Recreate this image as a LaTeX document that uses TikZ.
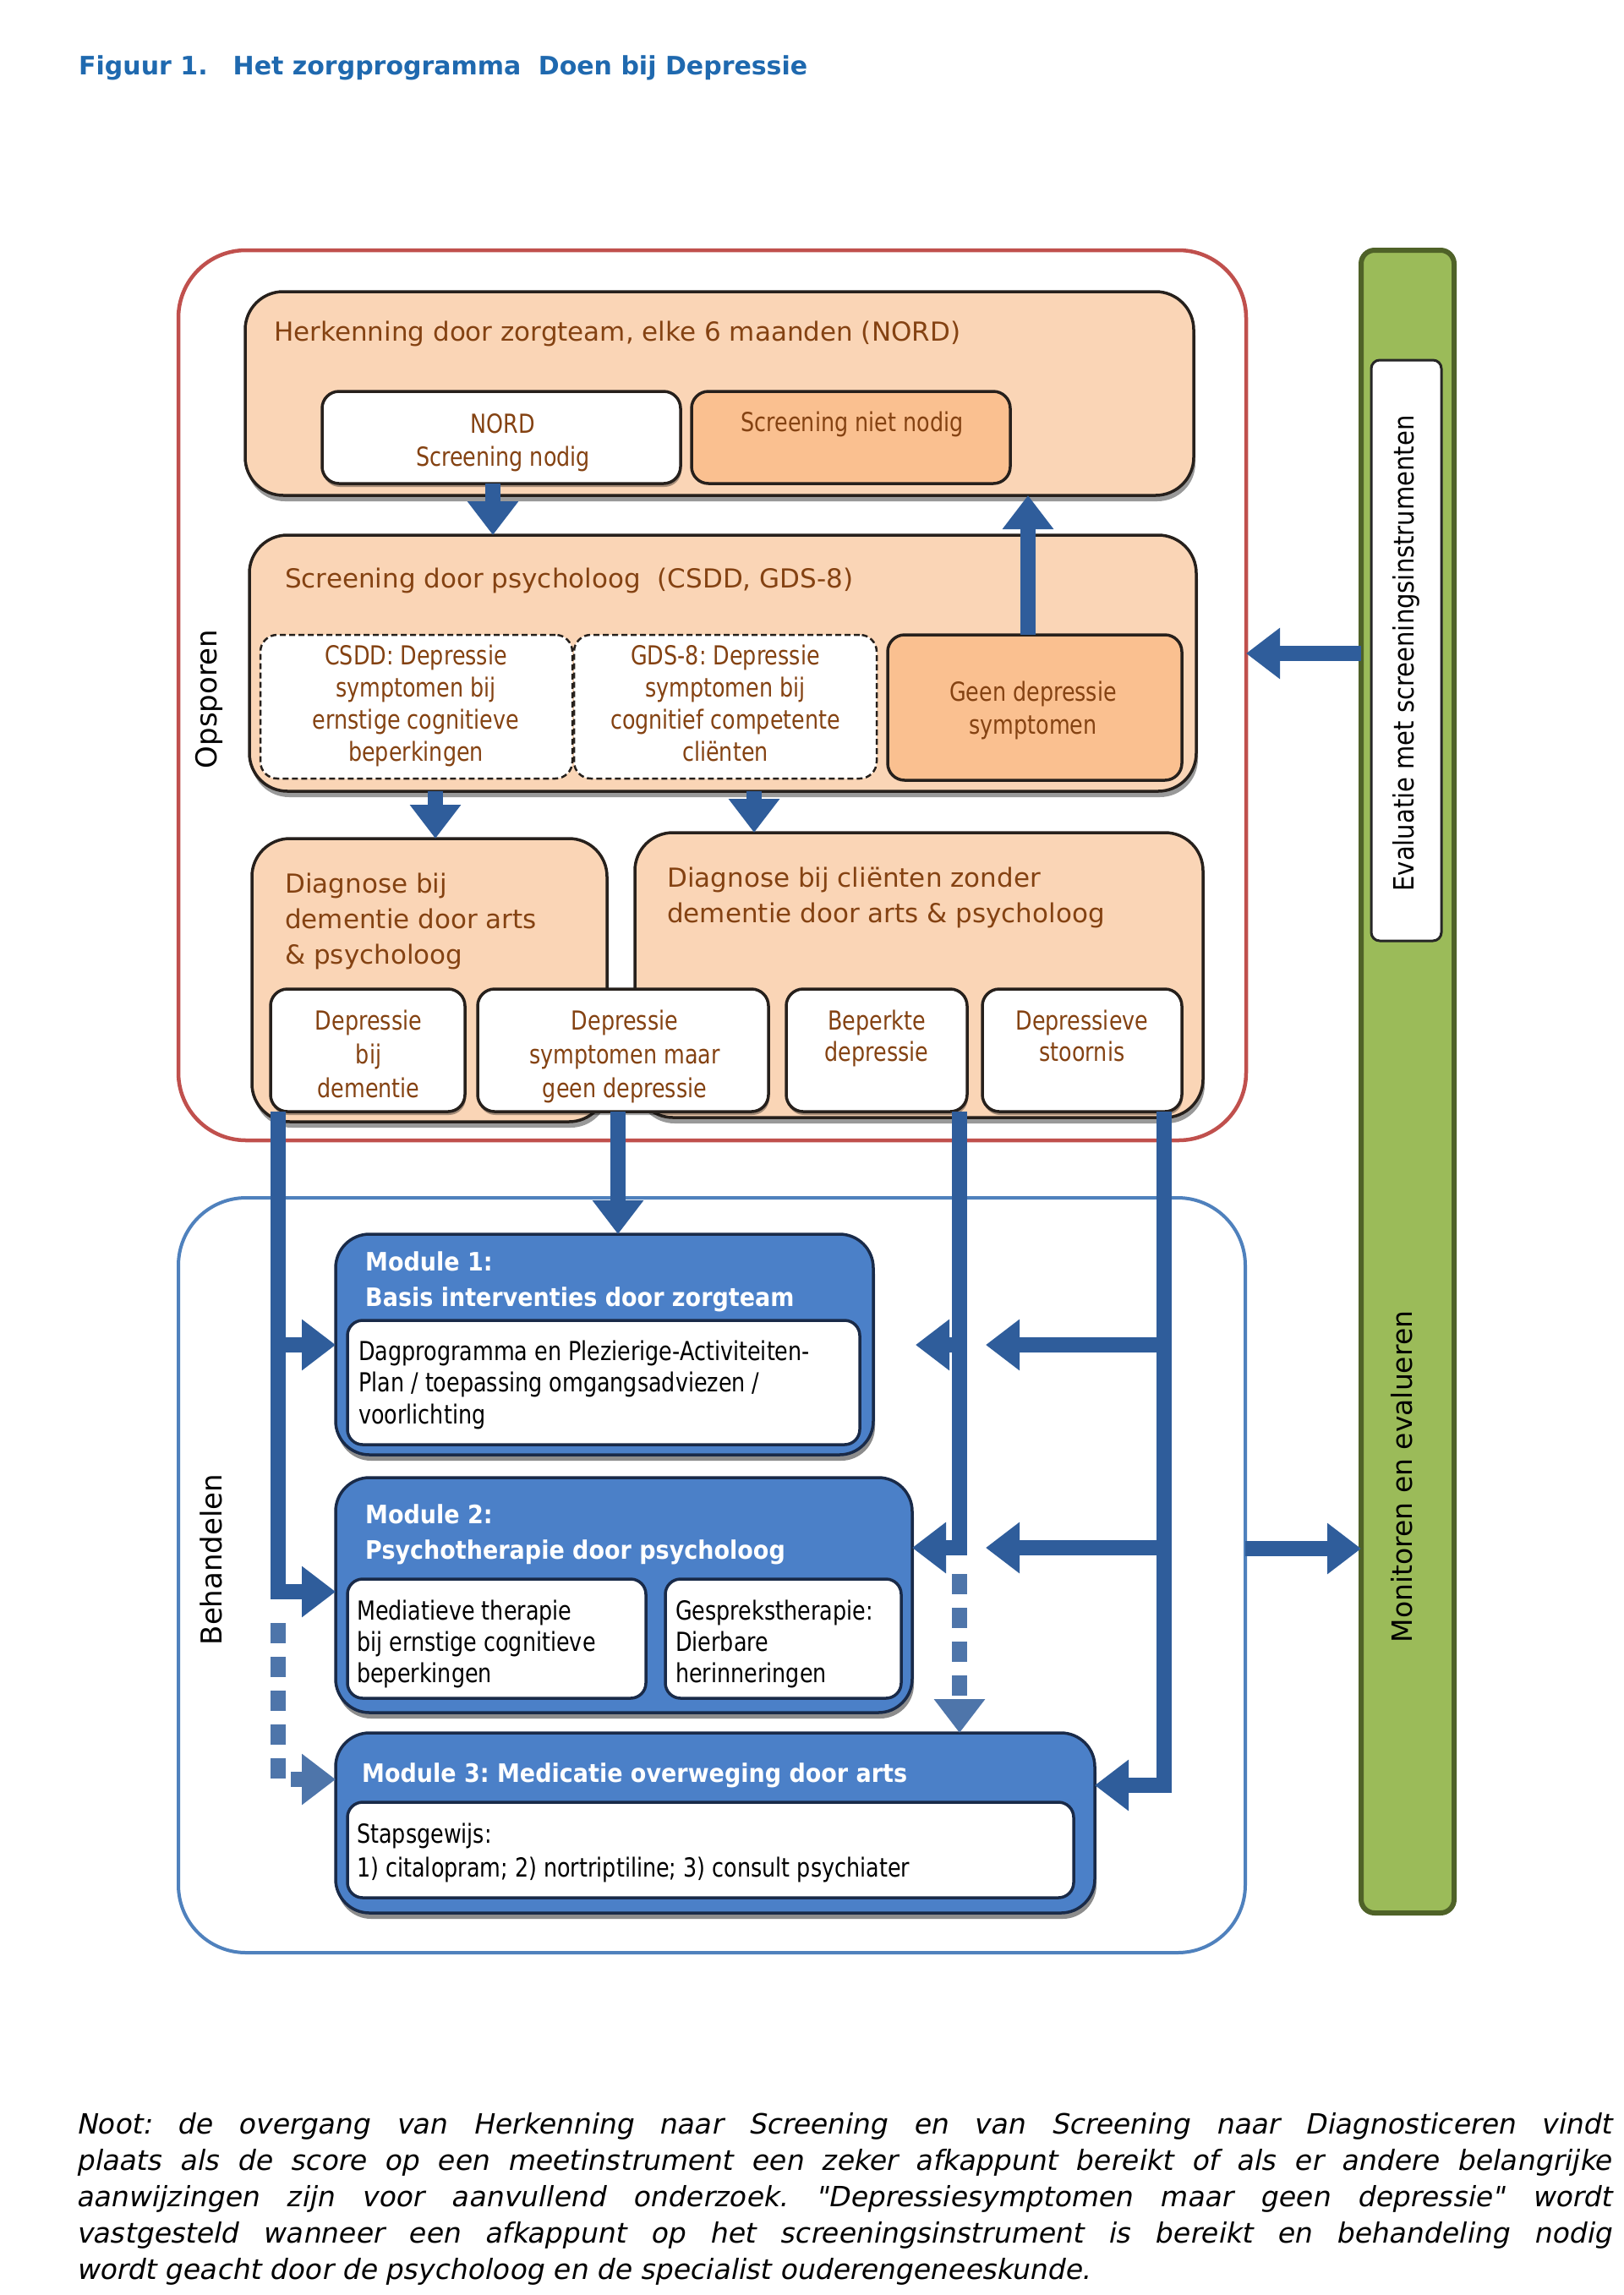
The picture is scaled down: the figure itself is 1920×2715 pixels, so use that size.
\documentclass[tikz,border=0pt]{standalone}
\usepackage{fontspec}
\setmainfont{DejaVu Sans}
\newfontfamily\cnd[FakeStretch=0.82]{DejaVu Sans}
\newfontfamily\cndb[FakeStretch=0.9]{DejaVu Sans}
\newfontfamily\evalf[FakeStretch=0.88]{DejaVu Sans}
\newfontfamily\notef[FakeSlant=0.2]{DejaVu Sans}
\usetikzlibrary{arrows.meta,shadows,calc}
\definecolor{titleblue}{RGB}{31,105,175}
\definecolor{framered}{RGB}{192,80,77}
\definecolor{frameblue}{RGB}{79,129,189}
\definecolor{peach}{RGB}{250,213,182}
\definecolor{peachdark}{RGB}{250,192,144}
\definecolor{txtbrown}{RGB}{132,66,18}
\definecolor{modblue}{RGB}{75,128,200}
\definecolor{modborder}{RGB}{25,42,72}
\definecolor{arrowblue}{RGB}{47,93,155}
\definecolor{bargreen}{RGB}{155,187,89}
\definecolor{barborder}{RGB}{79,98,40}
\definecolor{boxline}{RGB}{38,32,28}
\newcommand\bx[6]{\node[#6, anchor=north west, inner sep=0pt, outer sep=0pt, minimum width={(#4-#2)*1pt}, minimum height={(#5-#3)*1pt}] (#1) at (#2,#3) {};}
\tikzset{
  redframe/.style={draw=framered, line width=4.5pt, rounded corners=80pt},
  blueframe/.style={draw=frameblue, line width=4pt, rounded corners=80pt},
  peachbox/.style={fill=peach, draw=boxline, line width=3.5pt, rounded corners=45pt,
     drop shadow={shadow xshift=2pt, shadow yshift=-7pt, fill=black, opacity=0.4}},
  darkpeachbox/.style={fill=peachdark, draw=boxline, line width=3.5pt, rounded corners=20pt},
  whitebox/.style={fill=white, draw=boxline, line width=3.5pt, rounded corners=20pt,
     drop shadow={shadow xshift=1pt, shadow yshift=-4pt, fill=black, opacity=0.35}},
  dashbox/.style={fill=white, draw=boxline, line width=2.5pt, dash pattern=on 7pt off 4pt, rounded corners=20pt},
  modbox/.style={fill=modblue, draw=modborder, line width=3.5pt, rounded corners=40pt,
     drop shadow={shadow xshift=2pt, shadow yshift=-7pt, fill=black, opacity=0.45}},
  inbox/.style={fill=white, draw=modborder, line width=3.5pt, rounded corners=18pt},
  greenbar/.style={fill=bargreen, draw=barborder, line width=6pt, rounded corners=16pt},
  evalbox/.style={fill=white, draw=black!85, line width=3pt, rounded corners=10pt},
  hdr/.style={font=\fontsize{31pt}{42pt}\selectfont, text=txtbrown, align=left, inner sep=0pt, anchor=base west},
  wtxt/.style={font=\cnd\fontsize{31pt}{39pt}\selectfont, text=txtbrown, align=center, inner sep=0pt, anchor=base},
  mtitle/.style={font=\cndb\bfseries\fontsize{30pt}{42pt}\selectfont, text=white, align=left, inner sep=0pt, anchor=base west},
  mtxt/.style={font=\cnd\fontsize{31pt}{37.5pt}\selectfont, text=black, align=left, inner sep=0pt, anchor=base west},
  side/.style={font=\fontsize{34pt}{40pt}\selectfont, text=black, rotate=90, inner sep=0pt},
  notetxt/.style={font=\notef\fontsize{33pt}{43pt}\selectfont, text=black, inner sep=0pt, anchor=base west},
  arr/.style={draw=arrowblue, line width=18pt, -{Triangle[width=58pt,length=40pt]}},
  arrline/.style={draw=arrowblue, line width=18pt},
  dotarr/.style={draw=arrowblue!85!white, line width=18pt, dash pattern=on 24pt off 16pt, -{Triangle[width=58pt,length=40pt]}}
}
\begin{document}
\frenchspacing
\begin{tikzpicture}[x=1pt,y=-1pt]
\useasboundingbox (0,0) rectangle (1920,2715);
\fill[white] (0,0) rectangle (1920,2715);

% title
\node[font=\bfseries\fontsize{30pt}{36pt}\selectfont, text=titleblue, inner sep=0pt, anchor=base west] (title) at (93,88)
  {Figuur 1.\hspace{30pt}Het zorgprogramma\hspace{10pt} Doen bij Depressie};

% outer frames
\bx{ops}{211}{296}{1474}{1349}{redframe}
\bx{beh}{211}{1417}{1473}{2310}{blueframe}
\node[side] (opsl) at (247,827) {Opsporen};
\node[side] (behl) at (250,1845) {Behandelen};

% green bar
\bx{bar}{1610}{296}{1720}{2263}{greenbar}
\bx{evalbox}{1622}{426}{1705}{1113}{evalbox}
\node[font=\evalf\fontsize{33pt}{40pt}\selectfont, rotate=90, inner sep=0pt] (evalt) at (1663,773) {Evaluatie met screeningsinstrumenten};
\node[font=\fontsize{33pt}{40pt}\selectfont, rotate=90, inner sep=0pt] (mont) at (1658,1747) {Monitoren en evalueren};

% Herkenning
\bx{herk}{290}{345}{1412}{586}{peachbox}
\node[hdr] (herkt) at (324,403) {Herkenning door zorgteam, elke 6 maanden (NORD)};
\bx{nord}{381}{463}{805}{572}{whitebox}
\node[wtxt] (nordt) at (595,551) {NORD\\Screening nodig};
\bx{snn}{818}{463}{1195}{572}{darkpeachbox}
\node[wtxt] (snnt) at (1008,510) {Screening niet nodig};

% Screening
\bx{scr}{295}{633}{1415}{936}{peachbox}
\node[hdr] (scrt) at (337,695) {Screening door psycholoog\hspace{10pt} (CSDD, GDS-8)};
\bx{csdd}{308}{751}{677}{921}{dashbox}
\node[wtxt, font=\cnd\fontsize{31pt}{38pt}\selectfont] (csddt) at (492,900) {CSDD: Depressie\\symptomen bij\\ernstige cognitieve\\beperkingen};
\bx{gds}{679}{751}{1037}{921}{dashbox}
\node[wtxt, font=\cnd\fontsize{31pt}{38pt}\selectfont] (gdst) at (858,900) {GDS-8: Depressie\\symptomen bij\\cognitief competente\\cliënten};
\bx{geen}{1050}{751}{1398}{923}{darkpeachbox}
\node[wtxt] (geent) at (1222,868) {Geen depressie\\symptomen};

% Diagnose
\bx{dd}{298}{992}{718}{1327}{peachbox}
\node[hdr] (ddt) at (337,1140) {Diagnose bij\\dementie door arts\\\& psycholoog};
\bx{dz}{751}{985}{1423}{1322}{peachbox}
\node[hdr] (dzt) at (789,1091) {Diagnose bij cliënten zonder\\dementie door arts \& psycholoog};
\bx{dep1}{320}{1170}{550}{1315}{whitebox}
\node[wtxt, font=\cnd\fontsize{31pt}{40pt}\selectfont] (dep1t) at (436,1298) {Depressie\\bij\\dementie};
\bx{dep2}{565}{1170}{909}{1315}{whitebox}
\node[wtxt, font=\cnd\fontsize{31pt}{40pt}\selectfont] (dep2t) at (739,1298) {Depressie\\symptomen maar\\geen depressie};
\bx{dep3}{930}{1170}{1144}{1315}{whitebox}
\node[wtxt, font=\cnd\fontsize{31pt}{37pt}\selectfont] (dep3t) at (1037,1255) {Beperkte\\depressie};
\bx{dep4}{1162}{1170}{1398}{1315}{whitebox}
\node[wtxt, font=\cnd\fontsize{31pt}{37pt}\selectfont] (dep4t) at (1280,1255) {Depressieve\\stoornis};

% Modules
\bx{m1}{397}{1460}{1033}{1721}{modbox}
\node[mtitle] (m1t) at (432,1545) {Module 1:\\Basis interventies door zorgteam};
\bx{m1i}{411}{1562}{1017}{1709}{inbox}
\node[mtxt] (m1it) at (424,1684) {Dagprogramma en Plezierige-Activiteiten-\\Plan / toepassing omgangsadviezen /\\voorlichting};

\bx{m2}{397}{1748}{1079}{2026}{modbox}
\node[mtitle] (m2t) at (432,1844) {Module 2:\\Psychotherapie door psycholoog};
\bx{m2a}{411}{1868}{764}{2009}{inbox}
\node[mtxt, font=\cnd\fontsize{31pt}{37pt}\selectfont] (m2at) at (422,1990) {Mediatieve therapie\\bij ernstige cognitieve\\beperkingen};
\bx{m2b}{787}{1868}{1066}{2009}{inbox}
\node[mtxt, font=\cnd\fontsize{31pt}{37pt}\selectfont] (m2bt) at (799,1990) {Gesprekstherapie:\\Dierbare\\herinneringen};

\bx{m3}{397}{2050}{1295}{2263}{modbox}
\node[mtitle] (m3t) at (428,2108) {Module 3: Medicatie overweging door arts};
\bx{m3i}{411}{2132}{1270}{2245}{inbox}
\node[mtxt, font=\cnd\fontsize{31pt}{40pt}\selectfont] (m3it) at (422,2220) {Stapsgewijs:\\1) citalopram; 2) nortriptiline; 3) consult psychiater};

% arrows in Opsporen
\draw[arr] (nord.south -| 583,0) -- (scr.north -| 583,0);
\draw[arr] (geen.north -| 1216,0) -- (herk.south -| 1216,0);
\draw[arr] (scr.south -| 515,0) -- (dd.north -| 515,0);
\draw[arr] (scr.south -| 892,0) -- (dz.north -| 892,0);

% arrows to modules
\coordinate (lb1) at (329,1591);
\draw[arr] (dep1.south -| 329,0) |- (m2.west |- 0,1883);
\draw[arr] (lb1) -- (m1.west |- lb1);
\draw[dotarr] (329,1920) |- (m3.west |- 0,2105);

\draw[arr] (dep2.south -| 731,0) -- (m1.north -| 731,0);

\coordinate (rb1) at (1135,1591);
\coordinate (rb1t) at (1083,1591);
\draw[arr] (dep3.south -| 1135,0) |- (m2.east |- 0,1831);
\draw[arr] (rb1) -- (rb1t);
\draw[dotarr] (1135,1862) -- (m3.north -| 1135,0);

\coordinate (sb1) at (1377,1591);
\coordinate (sb1t) at (1166,1591);
\coordinate (sb2) at (1377,1831);
\coordinate (sb2t) at (1166,1831);
\draw[arr] (dep4.south -| 1377,0) |- (m3.east |- 0,2112);
\draw[arr] (sb1) -- (sb1t);
\draw[arr] (sb2) -- (sb2t);

% arrows to/from the green bar
\draw[arr] (bar.west |- 0,773) -- (ops.east |- 0,773);
\draw[arr] (beh.east |- 0,1832) -- (bar.west |- 0,1832);

% note
\node[notetxt] (n1) at (90,2524) {\makebox[1816pt][s]{Noot: de overgang van Herkenning naar Screening en van Screening naar Diagnosticeren vindt}};
\node[notetxt] (n2) at (90,2567) {\makebox[1816pt][s]{plaats als de score op een meetinstrument een zeker afkappunt bereikt of als er andere belangrijke}};
\node[notetxt] (n3) at (90,2610) {\makebox[1816pt][s]{aanwijzingen zijn voor aanvullend onderzoek. "Depressiesymptomen maar geen depressie" wordt}};
\node[notetxt] (n4) at (90,2653) {\makebox[1816pt][s]{vastgesteld wanneer een afkappunt op het screeningsinstrument is bereikt en behandeling nodig}};
\node[notetxt] (n5) at (90,2696) {wordt geacht door de psycholoog en de specialist ouderengeneeskunde.};
\end{tikzpicture}
\end{document}
